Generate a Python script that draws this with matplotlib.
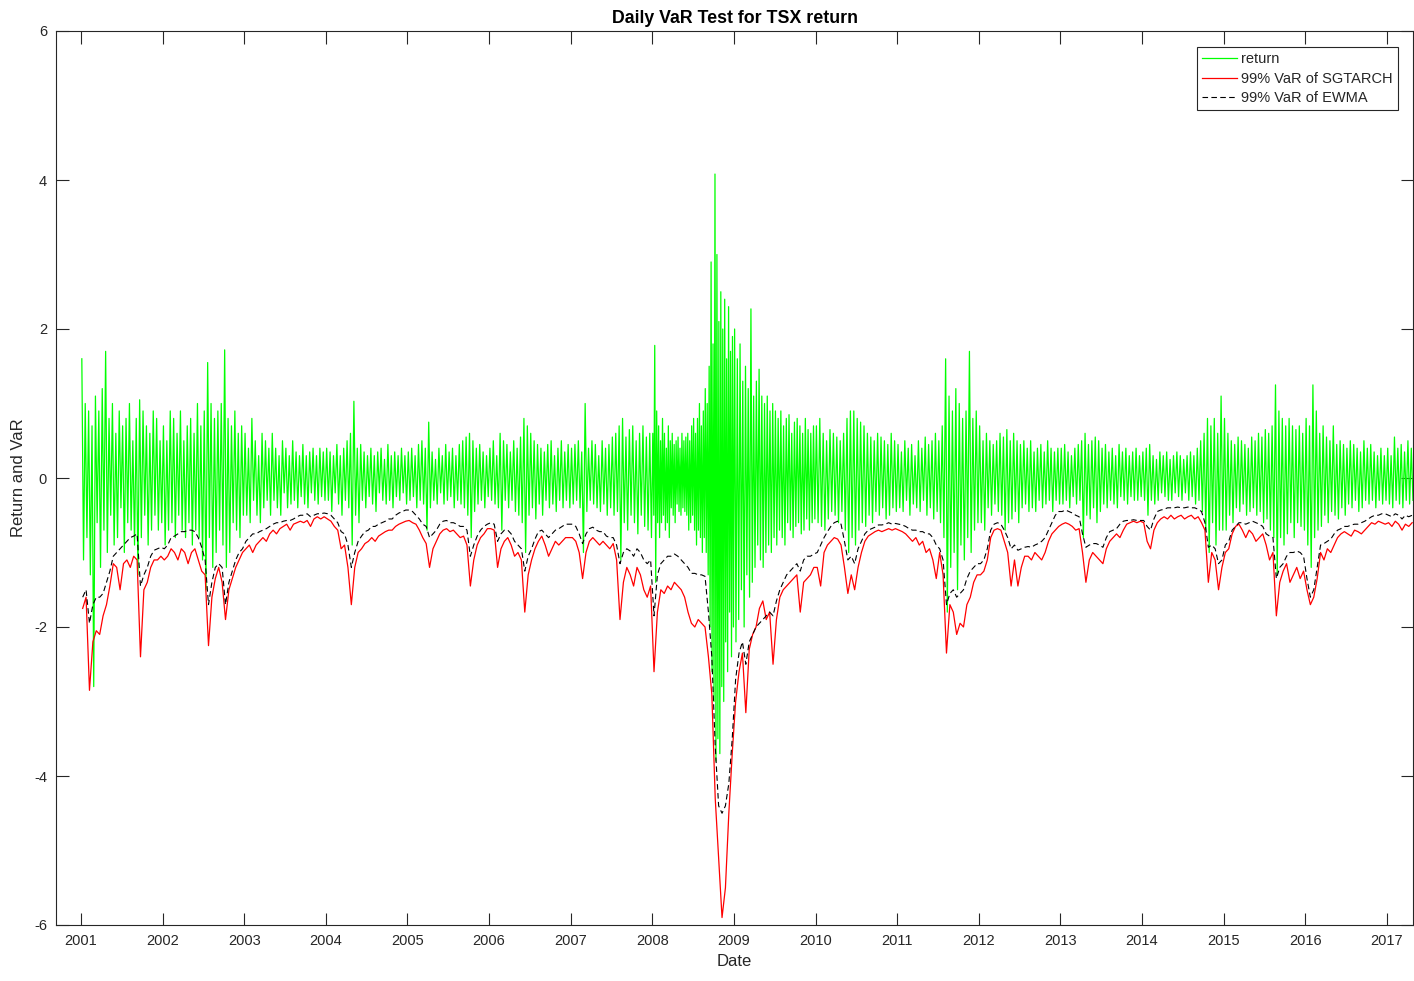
import numpy as np
import matplotlib
matplotlib.use("Agg")
import matplotlib.pyplot as plt

plt.rcParams['font.family'] = ['Liberation Sans', 'DejaVu Sans']
plt.rcParams['axes.unicode_minus'] = False

# years in the sample; the last year only runs to about end of April
years = list(range(2001, 2018))
last_year_span = 0.33

ret2001 = [1.6, -1.1, 1.0, -0.8, 0.9, -1.3, 0.7, -2.8, 1.1, -0.6, 0.9, -1.2, 1.2, -0.7, 1.7, -1.0,
           0.8, -0.5, 1.0, -0.9, 0.6, -0.8, 0.9, -0.4, 0.7, -1.0, 0.8, -0.6, 1.0, -0.7, 0.5, -0.9,
           0.8, -1.3, 1.05, -0.8, 0.9, -0.5, 0.7, -0.9, 0.6, -0.7, 0.9, -0.5, 0.8, -0.7, 0.5, -0.6]
ret2002 = [0.7, -0.9, 0.5, -0.7, 0.9, -0.6, 0.8, -0.8, 0.6, -0.5, 0.9, -0.7, 0.5, -0.8, 0.7, -0.6,
           0.8, -0.9, 0.6, -0.7, 1.0, -0.8, 0.7, -1.1, 0.9, -1.5, 1.55, -0.8, 1.0, -1.2, 0.8, -1.0,
           0.9, -0.7, 1.0, -0.9, 1.72, -1.2, 0.8, -1.0, 0.7, -0.6, 0.9, -0.7, 0.6, -0.8, 0.7, -0.5]
ret2003 = [0.6, -0.5, 0.4, -0.6, 0.8, -0.3, 0.5, -0.5, 0.3, -0.6, 0.6, -0.4, 0.5, -0.3, 0.4, -0.5,
           0.6, -0.3, 0.4, -0.4, 0.3, -0.5, 0.5, -0.2, 0.4, -0.4, 0.3, -0.35, 0.5, -0.3, 0.35, -0.4,
           0.3, -0.25, 0.45, -0.35, 0.3, -0.4, 0.35, -0.2, 0.4, -0.3, 0.3, -0.35, 0.4, -0.25, 0.35, -0.3]
ret2004 = [0.4, -0.3, 0.35, -0.45, 0.3, -0.2, 0.45, -0.35, 0.3, -0.5, 0.4, -0.3, 0.5, -0.4, 0.6, -0.9,
           1.03, -0.5, 0.4, -0.6, 0.45, -0.3, 0.35, -0.4, 0.3, -0.25, 0.4, -0.35, 0.3, -0.45, 0.35, -0.2,
           0.4, -0.3, 0.25, -0.35, 0.45, -0.3, 0.3, -0.4, 0.35, -0.25, 0.3, -0.3, 0.4, -0.2, 0.3, -0.35]
ret2005 = [0.35, -0.3, 0.4, -0.25, 0.3, -0.4, 0.45, -0.3, 0.5, -0.35, 0.4, -0.7, 0.75, -0.4, 0.35, -0.3,
           0.25, -0.35, 0.4, -0.2, 0.3, -0.35, 0.45, -0.3, 0.35, -0.25, 0.4, -0.4, 0.3, -0.3, 0.45, -0.35,
           0.5, -0.4, 0.55, -0.5, 0.6, -0.8, 0.5, -0.45, 0.4, -0.35, 0.45, -0.3, 0.35, -0.4, 0.3, -0.25]
ret2006 = [0.4, -0.3, 0.5, -0.35, 0.3, -0.4, 0.6, -0.7, 0.5, -0.3, 0.45, -0.4, 0.35, -0.3, 0.5, -0.45,
           0.4, -0.5, 0.55, -0.6, 0.8, -1.0, 0.7, -0.5, 0.6, -0.4, 0.5, -0.55, 0.45, -0.35, 0.4, -0.5,
           0.35, -0.3, 0.45, -0.4, 0.5, -0.35, 0.3, -0.45, 0.4, -0.3, 0.5, -0.4, 0.35, -0.3, 0.45, -0.4]
ret2007 = [0.4, -0.35, 0.45, -0.3, 0.5, -0.4, 0.35, -1.0, 1.0, -0.45, 0.4, -0.3, 0.5, -0.35, 0.45, -0.4,
           0.3, -0.45, 0.5, -0.35, 0.4, -0.5, 0.45, -0.4, 0.55, -0.5, 0.6, -0.45, 0.7, -1.1, 0.8, -0.6,
           0.55, -0.7, 0.65, -0.5, 0.7, -0.6, 0.5, -0.75, 0.6, -0.5, 0.7, -0.65, 0.55, -0.7, 0.6, -0.8]
ret2008 = [0.6, -0.5, 1.78, -1.4, 0.9, -0.6, 0.7, -0.8, 0.5, -0.6, 0.8, -0.5, 0.6, -0.7, 0.4, -0.6,
           0.7, -0.8, 0.5, -0.4, 0.6, -0.5, 0.45, -0.6, 0.5, -0.35, 0.55, -0.45, 0.4, -0.5, 0.6, -0.4,
           0.5, -0.45, 0.55, -0.5, 0.6, -0.7, 0.5, -0.6, 0.7, -0.5, 0.8, -0.7, 0.6, -0.9, 0.8, -0.7,
           1.0, -0.8, 0.7, -1.0, 0.9, -0.8, 1.2, -1.0, 1.0, -1.3, 1.5, -2.0, 2.9, -2.6, 1.8, -3.0,
           4.08, -3.8, 3.0, -3.5, 2.1, -3.7, 2.5, -2.8, 2.0, -3.0, 2.4, -2.2, 1.6, -2.6, 2.3, -1.8,
           1.7, -2.4, 1.9, -2.0]
ret2009 = [2.0, -2.2, 1.6, -1.9, 1.8, -1.5, 1.3, -2.0, 1.5, -1.3, 1.2, -1.6, 2.27, -1.4, 1.1, -1.2,
           1.3, -0.9, 1.46, -1.1, 1.1, -1.2, 1.0, -1.0, 1.1, -0.9, 0.9, -1.0, 1.0, -0.8, 0.9, -0.9,
           0.8, -0.7, 0.9, -0.8, 0.7, -0.9, 0.8, -0.6, 0.85, -0.7, 0.6, -0.8, 0.75, -0.65, 0.8, -0.6,
           0.7, -0.75, 0.6, -0.7, 0.8, -0.55, 0.65, -0.7, 0.6, -0.6, 0.7, -0.55]
ret2010 = [0.7, -0.6, 0.8, -0.65, 0.6, -0.7, 0.5, -0.55, 0.65, -0.45, 0.6, -0.5, 0.55, -0.6, 0.5, -0.45,
           0.6, -0.7, 0.8, -1.0, 0.9, -0.8, 0.9, -0.9, 0.8, -0.7, 0.75, -0.6, 0.7, -0.65, 0.6, -0.5,
           0.55, -0.6, 0.5, -0.45, 0.6, -0.5, 0.55, -0.4, 0.5, -0.55, 0.45, -0.5, 0.6, -0.4, 0.5, -0.45]
ret2011 = [0.45, -0.4, 0.35, -0.45, 0.5, -0.3, 0.4, -0.5, 0.45, -0.35, 0.3, -0.4, 0.5, -0.45, 0.4, -0.3,
           0.55, -0.5, 0.45, -0.4, 0.5, -0.55, 0.6, -0.45, 0.5, -0.6, 0.7, -0.8, 1.6, -1.8, 1.1, -1.2,
           0.9, -1.0, 1.2, -1.5, 1.0, -0.9, 0.8, -1.1, 0.9, -0.8, 1.7, -1.0, 0.8, -0.7, 0.9, -0.6]
ret2012 = [0.7, -0.6, 0.5, -0.7, 0.6, -0.4, 0.5, -0.5, 0.45, -0.35, 0.5, -0.45, 0.6, -0.5, 0.55, -0.7,
           0.65, -0.6, 0.5, -0.55, 0.6, -0.45, 0.5, -0.6, 0.45, -0.4, 0.5, -0.35, 0.4, -0.45, 0.5, -0.4,
           0.35, -0.45, 0.4, -0.3, 0.45, -0.4, 0.35, -0.35, 0.5, -0.3, 0.4, -0.45, 0.35, -0.3, 0.4, -0.35]
ret2013 = [0.4, -0.35, 0.45, -0.3, 0.35, -0.4, 0.3, -0.25, 0.4, -0.35, 0.45, -0.3, 0.5, -0.8, 0.6, -0.5,
           0.45, -0.55, 0.5, -0.4, 0.55, -0.6, 0.5, -0.45, 0.4, -0.35, 0.45, -0.4, 0.35, -0.3, 0.4, -0.35,
           0.3, -0.4, 0.45, -0.25, 0.35, -0.3, 0.4, -0.35, 0.3, -0.25, 0.35, -0.3, 0.4, -0.3, 0.3, -0.25]
ret2014 = [0.35, -0.3, 0.4, -0.5, 0.45, -0.3, 0.3, -0.35, 0.25, -0.3, 0.35, -0.2, 0.3, -0.25, 0.35, -0.3,
           0.25, -0.3, 0.3, -0.2, 0.35, -0.25, 0.3, -0.3, 0.25, -0.2, 0.3, -0.3, 0.35, -0.25, 0.3, -0.35,
           0.4, -0.3, 0.5, -0.45, 0.6, -0.7, 0.8, -1.0, 0.7, -0.6, 0.8, -0.9, 0.6, -0.7, 1.1, -0.7]
ret2015 = [0.8, -0.7, 0.6, -0.5, 0.5, -0.6, 0.45, -0.4, 0.55, -0.45, 0.5, -0.35, 0.45, -0.5, 0.4, -0.45,
           0.55, -0.4, 0.5, -0.5, 0.6, -0.45, 0.55, -0.6, 0.65, -0.55, 0.6, -0.7, 0.7, -0.8, 1.25, -1.3,
           0.9, -0.8, 0.8, -0.9, 0.7, -0.75, 0.8, -0.6, 0.7, -0.8, 0.65, -0.6, 0.7, -0.65, 0.6, -0.7]
ret2016 = [0.8, -0.9, 0.7, -1.2, 1.25, -0.8, 0.9, -0.7, 0.6, -0.65, 0.7, -0.5, 0.55, -0.6, 0.5, -0.45,
           0.7, -0.5, 0.45, -0.55, 0.5, -0.4, 0.45, -0.5, 0.4, -0.35, 0.5, -0.4, 0.45, -0.3, 0.4, -0.45,
           0.35, -0.4, 0.5, -0.3, 0.4, -0.35, 0.45, -0.3, 0.35, -0.4, 0.3, -0.3, 0.4, -0.35, 0.3, -0.3]
ret2017 = [0.4, -0.35, 0.3, -0.4, 0.55, -0.3, 0.4, -0.35, 0.45, -0.4, 0.35, -0.3, 0.5, -0.35, 0.4, -0.3]

# 99% VaR of SGTARCH, twice a month
sg2001 = [-1.75, -1.6, -2.85, -2.2, -2.05, -2.1, -1.85, -1.7, -1.45, -1.15, -1.2, -1.5,
          -1.15, -1.1, -1.2, -1.05, -1.1, -2.4, -1.5, -1.4, -1.2, -1.1, -1.1, -1.05]
sg2002 = [-1.1, -1.05, -0.95, -1.0, -1.1, -0.95, -1.0, -1.15, -1.0, -0.95, -1.1, -1.25,
          -1.3, -2.25, -1.6, -1.35, -1.2, -1.4, -1.9, -1.5, -1.35, -1.2, -1.1, -1.0]
sg2003 = [-0.95, -0.9, -1.0, -0.9, -0.85, -0.8, -0.85, -0.75, -0.7, -0.75, -0.68, -0.65,
          -0.62, -0.7, -0.62, -0.6, -0.58, -0.6, -0.57, -0.65, -0.55, -0.52, -0.55, -0.52]
sg2004 = [-0.55, -0.58, -0.65, -0.7, -0.95, -0.9, -1.2, -1.7, -1.2, -1.0, -0.95, -0.88,
          -0.85, -0.8, -0.85, -0.78, -0.75, -0.72, -0.7, -0.7, -0.65, -0.62, -0.6, -0.58]
sg2005 = [-0.57, -0.6, -0.62, -0.7, -0.8, -0.88, -1.2, -0.95, -0.85, -0.75, -0.7, -0.68,
          -0.72, -0.7, -0.75, -0.8, -0.78, -0.9, -1.45, -1.1, -0.9, -0.8, -0.75, -0.68]
sg2006 = [-0.68, -0.7, -1.2, -0.95, -0.85, -0.8, -0.9, -1.05, -1.0, -1.1, -1.8, -1.3,
          -1.1, -0.95, -0.85, -0.78, -0.9, -1.05, -0.95, -0.85, -0.9, -0.85, -0.8, -0.8]
sg2007 = [-0.8, -0.85, -1.0, -1.35, -1.0, -0.85, -0.8, -0.85, -0.9, -0.85, -0.9, -0.95,
          -0.88, -1.1, -1.9, -1.4, -1.2, -1.3, -1.45, -1.2, -1.3, -1.5, -1.6, -1.45]
sg2008 = [-2.6, -1.8, -1.5, -1.55, -1.45, -1.5, -1.4, -1.45, -1.5, -1.6, -1.8, -1.95,
          -2.0, -1.9, -1.95, -2.0, -2.4, -2.9, -4.3, -5.1, -5.9, -5.5, -4.5, -3.7]
sg2009 = [-3.0, -2.6, -2.35, -3.15, -2.3, -2.1, -2.0, -1.75, -1.65, -1.9, -1.8, -2.5,
          -1.9, -1.6, -1.5, -1.45, -1.4, -1.35, -1.3, -1.8, -1.4, -1.35, -1.3, -1.2]
sg2010 = [-1.2, -1.45, -1.0, -0.9, -0.85, -0.8, -0.82, -0.9, -1.2, -1.55, -1.3, -1.5,
          -1.2, -1.0, -0.85, -0.78, -0.75, -0.72, -0.7, -0.72, -0.7, -0.68, -0.7, -0.68]
sg2011 = [-0.7, -0.72, -0.75, -0.8, -0.85, -0.8, -0.9, -0.85, -1.0, -0.95, -1.1, -1.35,
          -1.0, -1.3, -2.35, -1.7, -1.8, -2.1, -1.95, -2.0, -1.7, -1.6, -1.4, -1.3]
sg2012 = [-1.3, -1.25, -1.1, -0.8, -0.7, -0.68, -0.7, -0.85, -1.0, -1.45, -1.1, -1.45,
          -1.2, -1.05, -1.05, -1.1, -1.0, -1.05, -1.1, -1.0, -0.85, -0.75, -0.7, -0.65]
sg2013 = [-0.62, -0.6, -0.62, -0.65, -0.7, -0.68, -1.0, -1.4, -1.1, -1.0, -1.05, -1.1,
          -1.15, -0.95, -0.85, -0.8, -0.75, -0.8, -0.7, -0.62, -0.6, -0.58, -0.6, -0.58]
sg2014 = [-0.6, -0.85, -0.95, -0.7, -0.6, -0.55, -0.52, -0.55, -0.5, -0.55, -0.52, -0.5,
          -0.55, -0.52, -0.5, -0.55, -0.52, -0.6, -0.7, -1.4, -1.0, -1.1, -1.5, -1.2]
sg2015 = [-1.0, -0.95, -0.75, -0.65, -0.62, -0.7, -0.8, -0.7, -0.75, -0.85, -0.8, -0.75,
          -0.9, -1.1, -1.0, -1.85, -1.4, -1.25, -1.15, -1.4, -1.3, -1.2, -1.35, -1.25]
sg2016 = [-1.5, -1.7, -1.6, -1.35, -1.0, -1.1, -0.95, -1.0, -0.9, -0.8, -0.75, -0.72,
          -0.75, -0.78, -0.7, -0.72, -0.75, -0.7, -0.65, -0.6, -0.62, -0.58, -0.6, -0.62]
sg2017 = [-0.6, -0.65, -0.58, -0.62, -0.7, -0.62, -0.65, -0.6]

# 99% VaR of EWMA, twice a month
ew2001 = [-1.6, -1.5, -1.95, -1.7, -1.6, -1.6, -1.55, -1.4, -1.25, -1.05, -1.0, -0.95,
          -0.9, -0.85, -0.8, -0.78, -0.75, -1.45, -1.3, -1.2, -1.05, -0.97, -0.95, -0.93]
ew2002 = [-0.95, -0.9, -0.8, -0.78, -0.75, -0.72, -0.72, -0.7, -0.7, -0.72, -0.8, -0.93,
          -1.1, -1.7, -1.4, -1.2, -1.15, -1.2, -1.7, -1.4, -1.25, -1.1, -1.0, -0.95]
ew2003 = [-0.85, -0.8, -0.75, -0.75, -0.72, -0.7, -0.68, -0.65, -0.62, -0.6, -0.6, -0.58,
          -0.57, -0.57, -0.55, -0.52, -0.5, -0.5, -0.48, -0.52, -0.5, -0.48, -0.48, -0.47]
ew2004 = [-0.48, -0.5, -0.55, -0.6, -0.72, -0.75, -0.9, -1.2, -1.0, -0.85, -0.78, -0.72,
          -0.7, -0.65, -0.65, -0.62, -0.6, -0.58, -0.55, -0.55, -0.5, -0.47, -0.45, -0.43]
ew2005 = [-0.43, -0.45, -0.5, -0.55, -0.62, -0.65, -0.8, -0.75, -0.7, -0.62, -0.58, -0.57,
          -0.6, -0.6, -0.62, -0.65, -0.65, -0.7, -1.05, -0.9, -0.78, -0.7, -0.65, -0.62]
ew2006 = [-0.6, -0.62, -0.85, -0.75, -0.7, -0.7, -0.75, -0.85, -0.9, -0.95, -1.25, -1.05,
          -0.95, -0.82, -0.72, -0.7, -0.75, -0.8, -0.75, -0.7, -0.68, -0.65, -0.62, -0.62]
ew2007 = [-0.62, -0.65, -0.75, -0.88, -0.75, -0.68, -0.66, -0.7, -0.72, -0.72, -0.78, -0.8,
          -0.8, -0.9, -1.15, -1.0, -0.95, -0.98, -1.05, -0.95, -1.0, -1.1, -1.15, -1.1]
ew2008 = [-1.85, -1.3, -1.15, -1.1, -1.05, -1.05, -1.02, -1.05, -1.1, -1.15, -1.2, -1.28,
          -1.28, -1.3, -1.3, -1.32, -1.8, -2.4, -3.6, -4.4, -4.5, -4.4, -4.1, -3.5]
ew2009 = [-2.7, -2.35, -2.2, -2.5, -2.2, -2.1, -2.0, -1.95, -1.9, -1.85, -1.8, -1.85,
          -1.65, -1.5, -1.4, -1.3, -1.25, -1.2, -1.15, -1.25, -1.1, -1.05, -1.05, -1.02]
ew2010 = [-1.0, -0.9, -0.8, -0.72, -0.65, -0.6, -0.58, -0.62, -0.85, -1.1, -1.05, -1.15,
          -0.95, -0.85, -0.75, -0.7, -0.68, -0.66, -0.63, -0.63, -0.62, -0.6, -0.62, -0.61]
ew2011 = [-0.62, -0.63, -0.65, -0.68, -0.7, -0.7, -0.72, -0.72, -0.75, -0.75, -0.8, -0.9,
          -0.95, -1.1, -1.7, -1.55, -1.5, -1.6, -1.55, -1.5, -1.35, -1.25, -1.2, -1.15]
ew2012 = [-1.15, -1.1, -0.95, -0.7, -0.62, -0.6, -0.62, -0.7, -0.8, -0.95, -0.9, -0.97,
          -0.95, -0.93, -0.92, -0.93, -0.9, -0.88, -0.85, -0.8, -0.7, -0.6, -0.5, -0.45]
ew2013 = [-0.45, -0.43, -0.45, -0.47, -0.5, -0.52, -0.75, -0.93, -0.9, -0.88, -0.88, -0.9,
          -0.93, -0.8, -0.72, -0.7, -0.68, -0.62, -0.58, -0.57, -0.57, -0.56, -0.57, -0.57]
ew2014 = [-0.57, -0.65, -0.7, -0.55, -0.45, -0.43, -0.42, -0.4, -0.4, -0.4, -0.39, -0.4,
          -0.4, -0.39, -0.4, -0.4, -0.42, -0.45, -0.6, -0.93, -0.9, -0.95, -1.15, -1.1]
ew2015 = [-0.9, -0.85, -0.7, -0.65, -0.6, -0.6, -0.62, -0.6, -0.58, -0.6, -0.62, -0.65,
          -0.75, -0.78, -0.8, -1.35, -1.2, -1.15, -1.05, -1.0, -1.0, -0.98, -1.0, -1.05]
ew2016 = [-1.35, -1.6, -1.5, -1.2, -0.9, -0.88, -0.85, -0.82, -0.75, -0.7, -0.68, -0.65,
          -0.65, -0.63, -0.62, -0.62, -0.6, -0.58, -0.55, -0.52, -0.5, -0.5, -0.48, -0.48]
ew2017 = [-0.5, -0.52, -0.48, -0.5, -0.55, -0.5, -0.52, -0.5]

returns = [ret2001, ret2002, ret2003, ret2004, ret2005, ret2006, ret2007, ret2008, ret2009,
           ret2010, ret2011, ret2012, ret2013, ret2014, ret2015, ret2016, ret2017]
var_sgtarch = [sg2001, sg2002, sg2003, sg2004, sg2005, sg2006, sg2007, sg2008, sg2009,
               sg2010, sg2011, sg2012, sg2013, sg2014, sg2015, sg2016, sg2017]
var_ewma = [ew2001, ew2002, ew2003, ew2004, ew2005, ew2006, ew2007, ew2008, ew2009,
            ew2010, ew2011, ew2012, ew2013, ew2014, ew2015, ew2016, ew2017]


def to_series(per_year):
    # spread each year's values evenly over that year (decimal-year x axis)
    xs, ys = [], []
    for year, vals in zip(years, per_year):
        span = last_year_span if year == years[-1] else 1.0
        n = len(vals)
        xs.extend(year + span * (i + 0.5) / n for i in range(n))
        ys.extend(vals)
    return np.array(xs), np.array(ys)


x_ret, y_ret = to_series(returns)
x_sg, y_sg = to_series(var_sgtarch)
x_ew, y_ew = to_series(var_ewma)

text_color = '#262626'

fig = plt.figure(figsize=(14.14, 9.81), dpi=100)
ax = fig.add_axes([56 / 1414, 1 - 925 / 981, (1413 - 56) / 1414, (925 - 31) / 981])

ax.plot(x_ret, y_ret, color='#00ff00', lw=0.9, label='return')
ax.plot(x_sg, y_sg, color='#ff0000', lw=0.9, label='99% VaR of SGTARCH')
ax.plot(x_ew, y_ew, color='black', lw=0.8, linestyle=(0, (5, 3)), label='99% VaR of EWMA')

ax.set_xlim(2000.694, 2017.32)
ax.set_ylim(-6, 6)
ax.set_xticks(years)
ax.set_xticklabels([str(y) for y in years])
ax.set_yticks(range(-6, 7, 2))

ax.tick_params(direction='in', top=True, right=True, length=9, width=0.8,
               labelsize=10.5, colors=text_color, pad=6.5)
for spine in ax.spines.values():
    spine.set_color(text_color)
    spine.set_linewidth(0.8)

ax.set_title('Daily VaR Test for TSX return', fontsize=12.8, fontweight='bold', pad=6)
ax.set_xlabel('Date', fontsize=12, color=text_color, labelpad=4)
ax.set_ylabel('Return and VaR', fontsize=12, color=text_color, labelpad=6)

leg = ax.legend(loc='upper right', bbox_to_anchor=(1 - 15 / 1357, 1 - 16 / 894), borderaxespad=0,
                fontsize=10.5, fancybox=False, framealpha=1, edgecolor=text_color,
                handlelength=2.4, handletextpad=0.3, labelspacing=0.38, borderpad=0.35)
leg.get_frame().set_linewidth(0.8)
for t in leg.get_texts():
    t.set_color(text_color)

fig.savefig('out.png', dpi=100)
